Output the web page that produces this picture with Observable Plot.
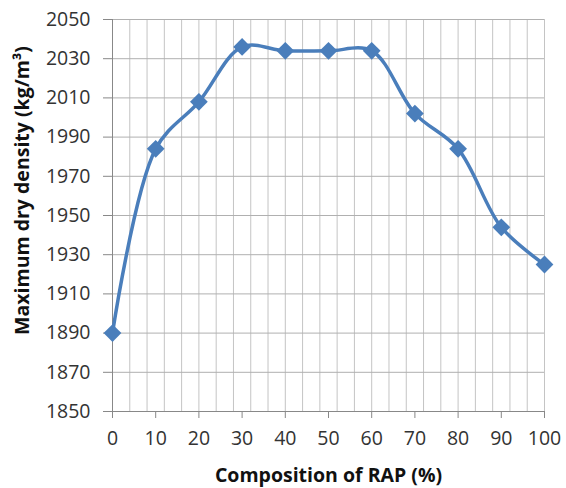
<!DOCTYPE html>
<html>
<head>
<meta charset="utf-8">
<script src="https://cdn.jsdelivr.net/npm/d3@7"></script>
<script src="https://cdn.jsdelivr.net/npm/@observablehq/plot@0.6"></script>
<style>
  html, body { margin: 0; padding: 0; background: #fff; }
</style>
</head>
<body>
<div id="chart"></div>
<script>
const compositions = [0, 10, 20, 30, 40, 50, 60, 70, 80, 90, 100];
const densities = [1890, 1984, 2008, 2036, 2034, 2034, 2034, 2002, 1984, 1944, 1925];
const xTickValues = [0, 10, 20, 30, 40, 50, 60, 70, 80, 90, 100];
const xGridValues = [0, 4, 8, 12, 16, 20, 24, 28, 32, 36, 40, 44, 48, 52, 56, 60, 64, 68, 72, 76, 80, 84, 88, 92, 96, 100];
const yTickValues = [1850, 1870, 1890, 1910, 1930, 1950, 1970, 1990, 2010, 2030, 2050];
const xTitle = "Composition of RAP (%)";
const yTitle = "Maximum dry density (kg/m³)";

const data = compositions.map((c, i) => ({ rap: c, mdd: densities[i] }));

const chart = Plot.plot({
  width: 566,
  height: 488,
  marginLeft: 112,
  marginRight: 22,
  marginTop: 19,
  marginBottom: 77,
  style: { fontFamily: "'Open Sans', sans-serif", fontSize: "19.5px", color: "#333", background: "#fff" },
  x: { domain: [0, 100] },
  y: { domain: [1850, 2050] },
  marks: [
    Plot.ruleX(xGridValues, { stroke: "#c4c4c4", strokeWidth: 1 }),
    Plot.ruleY(yTickValues, { stroke: "#b0b0b0", strokeWidth: 1 }),
    Plot.axisX({ ticks: xTickValues, tickFormat: d => String(d), tickSize: 7, tickPadding: 13, label: null, stroke: "#888", fill: "#333", fontSize: 19.5 }),
    Plot.axisY({ ticks: yTickValues, tickFormat: d => String(d), tickSize: 9, tickPadding: 13, label: null, stroke: "#888", fill: "#333", fontSize: 19.5 }),
    Plot.ruleX([0], { stroke: "#888" }),
    Plot.ruleY([1850], { stroke: "#888" }),
    Plot.line(data, { x: "rap", y: "mdd", curve: "catmull-rom", stroke: "#4a7ebb", strokeWidth: 3.5 }),
    Plot.dot(data, { x: "rap", y: "mdd", symbol: "diamond2", r: 8, fill: "#4a7ebb", stroke: "none" }),
    Plot.text([xTitle], { frameAnchor: "bottom", lineAnchor: "middle", dy: 64, fontWeight: "bold", fontSize: 19.5, fill: "#111" }),
    Plot.text([yTitle], { frameAnchor: "left", textAnchor: "middle", lineAnchor: "middle", rotate: -90, dx: -90, dy: -25, fontWeight: "bold", fontSize: 19.5, fill: "#111" })
  ]
});
document.getElementById("chart").appendChild(chart);
</script>
</body>
</html>
